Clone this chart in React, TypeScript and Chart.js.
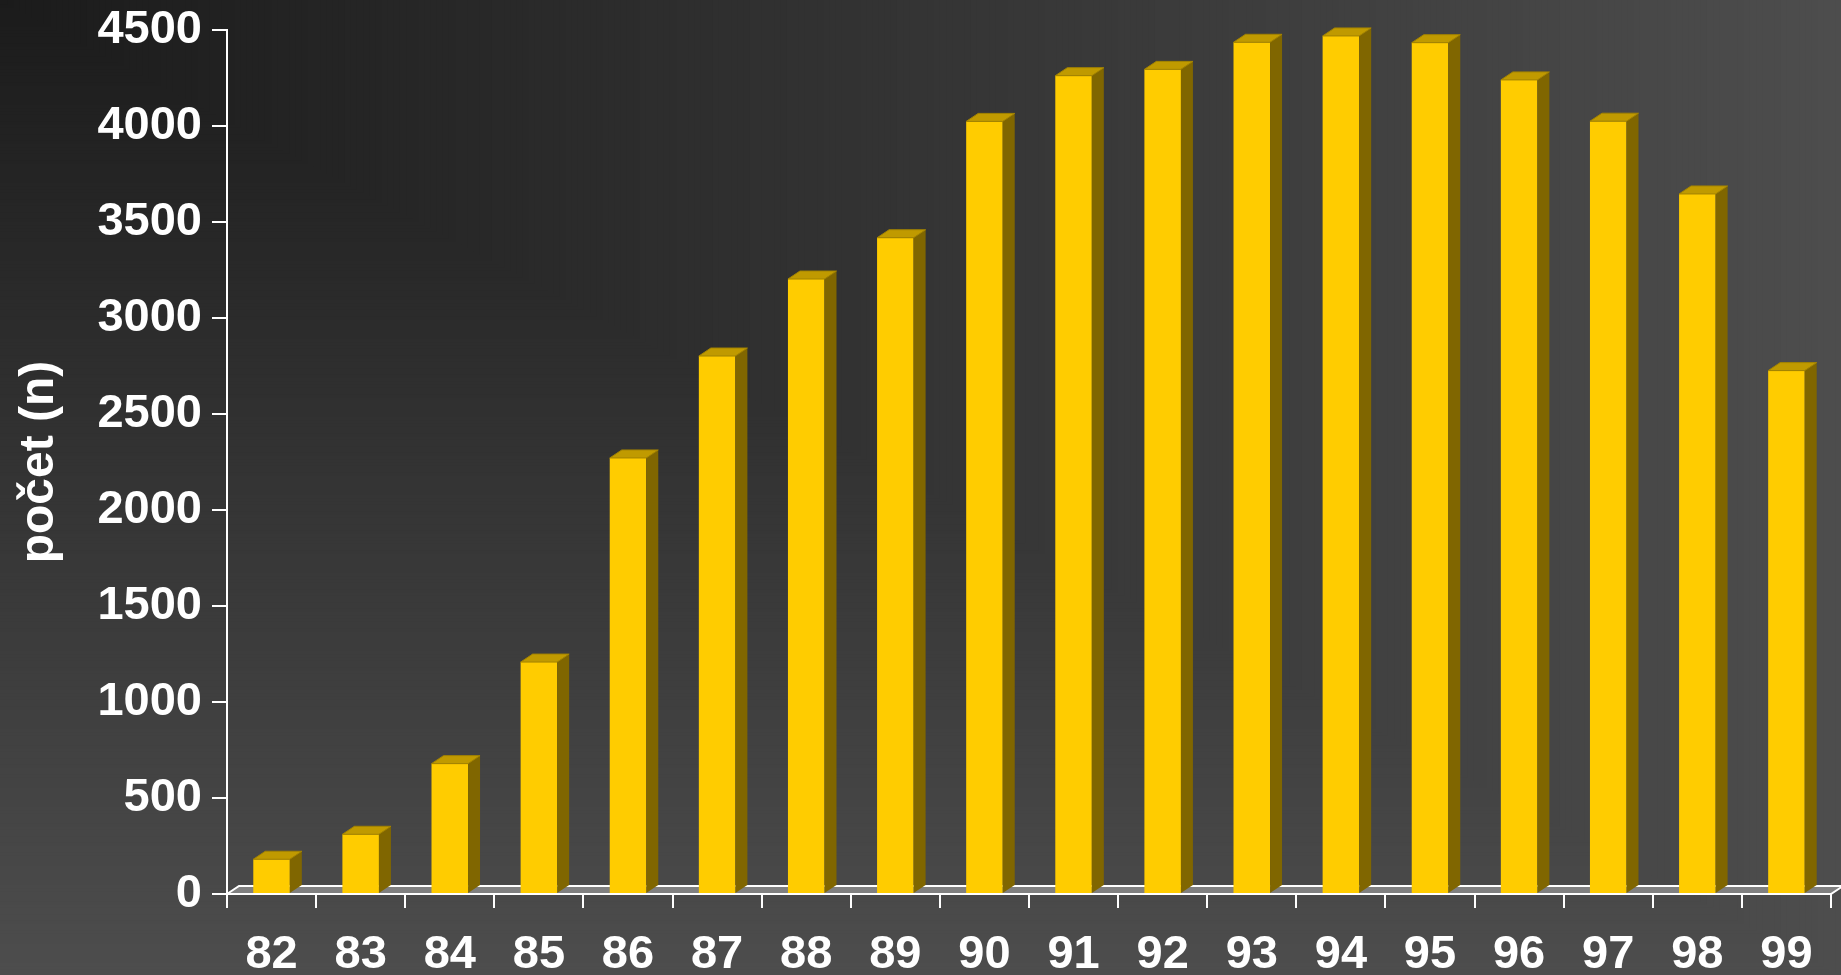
import React, { useEffect, useRef } from "react";
import { Chart, registerables } from "chart.js";

Chart.register(...registerables);

const categories = ["82", "83", "84", "85", "86", "87", "88", "89", "90", "91", "92", "93", "94", "95", "96", "97", "98", "99"];
const counts = [181, 311, 679, 1208, 2271, 2802, 3203, 3418, 4024, 4262, 4295, 4436, 4469, 4434, 4240, 4025, 3646, 2726];
const yTitle = "počet (n)";
const yMin = 0;
const yMax = 4500;
const yStep = 500;

const W = 1841;
const H = 975;
const DX = 12;
const DY = 8;
const FONT = "'Liberation Sans', Arial, sans-serif";

const bgPlugin = {
  id: "bgCorner",
  beforeDraw(chart: any) {
    const ctx = chart.ctx;
    const N = 300;
    const c0 = 27;
    const c1 = 77;
    ctx.save();
    for (let i = N; i >= 1; i--) {
      const t = i / N;
      const v = Math.round(c0 + (c1 - c0) * t);
      ctx.fillStyle = `rgb(${v},${v},${v})`;
      ctx.fillRect(0, 0, W * t + 1, H * t + 1);
    }
    ctx.restore();
  },
};

const floorPlugin = {
  id: "floor3d",
  beforeDatasetsDraw(chart: any) {
    const ctx = chart.ctx;
    const a = chart.chartArea;
    const y = a.bottom;
    ctx.save();
    ctx.beginPath();
    ctx.moveTo(a.left, y);
    ctx.lineTo(a.right, y);
    ctx.lineTo(a.right + DX, y - DY);
    ctx.lineTo(a.left + DX, y - DY);
    ctx.closePath();
    ctx.fillStyle = "#808080";
    ctx.fill();
    ctx.strokeStyle = "#ffffff";
    ctx.lineWidth = 2;
    ctx.beginPath();
    ctx.moveTo(a.left, y);
    ctx.lineTo(a.left + DX, y - DY);
    ctx.lineTo(a.right + DX, y - DY);
    ctx.lineTo(a.right, y);
    ctx.lineTo(a.left, y);
    ctx.stroke();
    ctx.restore();
  },
  afterDatasetsDraw(chart: any) {
    const ctx = chart.ctx;
    const meta = chart.getDatasetMeta(0);
    ctx.save();
    meta.data.forEach((el: any) => {
      const w = el.width;
      const l = el.x - w / 2;
      const r = el.x + w / 2;
      const top = el.y;
      const base = el.base;
      ctx.beginPath();
      ctx.moveTo(r, top);
      ctx.lineTo(r + DX, top - DY);
      ctx.lineTo(r + DX, base - DY);
      ctx.lineTo(r, base);
      ctx.closePath();
      ctx.fillStyle = "#806600";
      ctx.fill();
      ctx.beginPath();
      ctx.moveTo(l, top);
      ctx.lineTo(l + DX, top - DY);
      ctx.lineTo(r + DX, top - DY);
      ctx.lineTo(r, top);
      ctx.closePath();
      ctx.fillStyle = "#C09A00";
      ctx.fill();
      ctx.strokeStyle = "#A38300";
      ctx.lineWidth = 1;
      ctx.stroke();
    });
    ctx.restore();
  },
};

export default function App() {
  const ref = useRef<HTMLCanvasElement | null>(null);

  useEffect(() => {
    const canvas = ref.current;
    if (!canvas) return;
    const chart = new Chart(canvas, {
      type: "bar",
      data: {
        labels: categories,
        datasets: [
          {
            data: counts,
            backgroundColor: "#FFCC00",
            borderWidth: 0,
            categoryPercentage: 1,
            barPercentage: 0.41,
          },
        ],
      },
      options: {
        responsive: false,
        animation: false,
        devicePixelRatio: 1,
        layout: { padding: { left: 0, top: 30, right: 10, bottom: 0 } },
        plugins: {
          legend: { display: false },
          tooltip: { enabled: false },
          title: { display: false },
        },
        scales: {
          x: {
            type: "category",
            offset: true,
            grid: {
              offset: true,
              drawOnChartArea: false,
              drawTicks: true,
              tickLength: 14,
              color: "#ffffff",
              lineWidth: 2,
            },
            border: { display: true, color: "#ffffff", width: 2 },
            ticks: {
              color: "#ffffff",
              font: { family: FONT, size: 47, weight: "bold" },
              padding: 19,
              maxRotation: 0,
              autoSkip: false,
            },
            afterFit(scale: any) {
              scale.height = 81;
              scale.paddingLeft = 0;
              scale.paddingRight = 0;
            },
          },
          y: {
            type: "linear",
            min: yMin,
            max: yMax,
            grid: {
              drawOnChartArea: false,
              drawTicks: true,
              tickLength: 15,
              color: "#ffffff",
              lineWidth: 2,
            },
            border: { display: true, color: "#ffffff", width: 2 },
            ticks: {
              stepSize: yStep,
              color: "#ffffff",
              font: { family: FONT, size: 47, weight: "bold" },
              padding: 10,
              callback: (v: any) => String(v),
            },
            title: {
              display: true,
              text: yTitle,
              color: "#ffffff",
              font: { family: FONT, size: 48, weight: "bold" },
              padding: { top: 11, bottom: 0 },
            },
            afterFit(scale: any) {
              scale.width = 227;
              scale.paddingTop = 0;
              scale.paddingBottom = 0;
            },
          },
        },
      },
      plugins: [bgPlugin, floorPlugin],
    } as any);
    return () => chart.destroy();
  }, []);

  return (
    <div style={{ position: "absolute", left: 0, top: 0, width: W, height: H, overflow: "hidden" }}>
      <canvas ref={ref} width={W} height={H} style={{ display: "block", width: W, height: H }} />
    </div>
  );
}
